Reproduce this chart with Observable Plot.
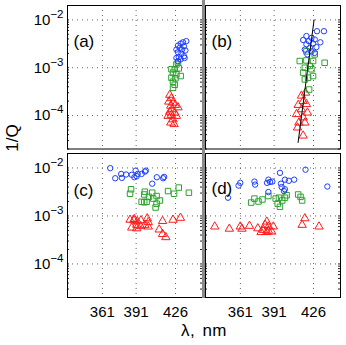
<!DOCTYPE html>
<html>
<head>
<meta charset="utf-8">
<script src="https://cdn.jsdelivr.net/npm/d3@7"></script>
<script src="https://cdn.jsdelivr.net/npm/@observablehq/plot@0.6"></script>
<style>
  html, body { margin: 0; padding: 0; background: white; }
  #chart { position: relative; width: 346px; height: 345px; background: white; overflow: hidden;
           font-family: "Liberation Sans", Arial, sans-serif; color: black; }
  #chart .panel { position: absolute; }
  .lbl { position: absolute; font-size: 17px; line-height: 17px; white-space: nowrap; }
</style>
</head>
<body>
<div id="chart"></div>
<script>
// ---------- data: [wavelength nm, 1/Q] ----------
const aBlue = [[435.6,3.6e-3],[432.7,3.4e-3],[430.6,3.2e-3],[428.2,2.9e-3],[433.5,2.8e-3],[429.7,2.6e-3],[426.8,2.4e-3],[431.8,2.4e-3],[434.8,2.3e-3],[428.2,2.1e-3],[431.2,1.96e-3],[433.5,1.74e-3],[428.9,1.66e-3],[426.8,1.6e-3],[430.6,1.5e-3],[434.1,1.6e-3],[428.2,1.37e-3]];
const aGreen = [[428.2,1.3e-3],[426.8,1.17e-3],[422.4,9.3e-4],[425.3,9.3e-4],[428.9,9.7e-4],[423.8,7.9e-4],[426.8,7.3e-4],[422.4,6.2e-4],[425.9,6.0e-4],[430.6,6.7e-4],[423.8,5.1e-4],[425.3,4.4e-4],[423.8,3.8e-4]];
const aRed = [[420.9,2.7e-4],[422.4,2.3e-4],[420.0,1.95e-4],[423.8,1.86e-4],[421.8,1.6e-4],[425.9,1.66e-4],[428.2,1.48e-4],[422.9,1.35e-4],[420.9,1.2e-4],[425.3,1.15e-4],[422.4,1.03e-4],[419.4,9.8e-5],[426.8,9.8e-5],[423.8,8.3e-5],[421.8,7.1e-5],[424.7,6.6e-5]];

const bBlue = [[429.1,5.8e-3],[435.3,5.8e-3],[419.7,4.6e-3],[424.2,4.2e-3],[416.8,3.8e-3],[421.8,3.6e-3],[427.1,3.9e-3],[432.1,3.4e-3],[419.7,3.1e-3],[425.6,3.2e-3],[422.7,2.6e-3],[428.6,2.7e-3],[418.3,2.4e-3],[424.2,2.2e-3],[427.1,2.05e-3],[420.6,1.9e-3]];
const bGreen = [[419.7,2.2e-3],[427.1,1.9e-3],[413.8,1.38e-3],[419.7,1.42e-3],[425.6,1.38e-3],[435.9,1.27e-3],[422.7,1.09e-3],[418.3,1.0e-3],[424.2,9.3e-4],[416.8,7.9e-4],[425.6,6.7e-4],[421.2,6.2e-4],[418.3,5.7e-4],[422.1,3.5e-4]];
const bRed = [[418.9,3.0e-4],[415.3,2.6e-4],[416.8,2.0e-4],[412.4,1.66e-4],[419.7,1.73e-4],[415.3,1.35e-4],[420.6,1.15e-4],[410.9,1.07e-4],[416.8,9.1e-5],[413.0,7.1e-5],[418.3,7.1e-5],[411.8,5.6e-5],[416.8,3.8e-5]];
const bFit = [[412.3,2.74e-5],[426.5,1.0e-2]];

const cBlue = [[368.0,9.9e-3],[372.4,6.1e-3],[377.7,7.5e-3],[378.3,6.2e-3],[382.1,7.3e-3],[387.1,7.2e-3],[390.6,8.8e-3],[392.4,7.5e-3],[389.4,6.4e-3],[391.5,6.7e-3],[395.9,7.5e-3],[398.8,8.4e-3],[399.7,8.8e-3],[405.3,4.7e-3],[409.4,6.4e-3],[415.0,6.1e-3],[415.9,6.5e-3]];
const cGreen = [[386.5,3.6e-3],[385.6,2.9e-3],[398.8,3.2e-3],[398.2,2.8e-3],[405.3,3.05e-3],[402.4,2.5e-3],[409.2,2.6e-3],[412.1,2.1e-3],[395.9,1.97e-3],[398.2,1.93e-3],[400.3,1.97e-3],[409.2,1.8e-3],[408.3,1.5e-3],[419.4,3.3e-3],[424.7,2.9e-3],[428.9,3.9e-3],[437.9,3.05e-3],[406.2,2.3e-3]];
const cRed = [[385.6,8.3e-4],[389.1,8.1e-4],[392.0,7.7e-4],[395.3,8.1e-4],[400.9,8.9e-4],[387.1,5.7e-4],[391.5,5.5e-4],[395.0,6.1e-4],[401.8,7.4e-4],[414.5,7.8e-4],[423.8,8.3e-4],[430.4,9.1e-4],[411.5,5.2e-4],[414.5,4.2e-4],[417.4,3.6e-4],[389.4,8.6e-4],[391.5,6.5e-4],[398.8,6.5e-4],[401.8,6.0e-4]];

const dBlue = [[396.2,7.9e-3],[418.9,9.2e-3],[360.9,4.9e-3],[359.4,4.3e-3],[373.5,5.2e-3],[374.1,4.5e-3],[385.9,5.7e-3],[387.4,5.1e-3],[384.7,4.9e-3],[389.4,5.2e-3],[397.1,4.7e-3],[400.6,5.7e-3],[404.1,5.4e-3],[408.8,5.7e-3],[400.6,3.6e-3],[397.7,4.0e-3],[385.9,3.15e-3],[399.7,3.3e-3],[350.0,2.4e-3],[438.3,4.1e-3]];
const dGreen = [[370.6,1.9e-3],[373.5,2.3e-3],[377.1,2.0e-3],[380.6,2.2e-3],[385.9,2.6e-3],[392.4,2.3e-3],[395.3,2.4e-3],[394.2,1.8e-3],[396.2,1.55e-3],[398.2,2.1e-3],[402.1,2.7e-3],[400.6,2.4e-3],[412.4,2.8e-3],[414.5,2.5e-3],[415.9,2.1e-3]];
const dRed = [[338.2,6.0e-4],[351.2,5.4e-4],[360.9,6.0e-4],[362.4,5.4e-4],[369.1,6.2e-4],[376.5,5.5e-4],[384.5,7.6e-4],[383.0,6.5e-4],[385.9,6.0e-4],[390.3,6.0e-4],[381.5,5.1e-4],[385.9,4.9e-4],[388.9,4.7e-4],[379.4,4.6e-4],[384.5,4.6e-4],[418.3,8.9e-4],[415.9,6.5e-4],[430.9,6.0e-4]];

// ---------- axes ----------
const xTicks = [361, 391, 426];
const yTicks = [1e-4, 1e-3, 1e-2];
const yMinor = [2e-5,3e-5,4e-5,5e-5,6e-5,7e-5,8e-5,9e-5,1e-4,2e-4,3e-4,4e-4,5e-4,6e-4,7e-4,8e-4,9e-4,1e-3,2e-3,3e-3,4e-3,5e-3,6e-3,7e-3,8e-3,9e-3,1e-2];
const xDomain = [330, 450];
const yDomain = [2e-5, 2e-2];
const panelLabels = ["(a)", "(b)", "(c)", "(d)"];
const xLabel = "λ, nm";
const yLabel = "1/Q";

const BLUE = "#1f3fff", GREEN = "#2ea32e", RED = "#ff1a1a";
const FONT = "'Liberation Sans', Arial, sans-serif";

function supify(svg) {
  d3.select(svg).selectAll("text").each(function () {
    const m = /^10\^(.+)$/.exec(this.textContent);
    if (!m) return;
    const sel = d3.select(this);
    sel.text(null);
    sel.append("tspan").text("10");
    sel.append("tspan").attr("dy", -7).attr("font-size", "11.5px").text(m[1].replace("-", "\u2212"));
  });
}

function panel(o) {
  const plotW = o.width - o.marginLeft - o.marginRight;
  const marks = [
    Plot.ruleX(xTicks, {stroke: "#666", strokeDasharray: "1,4"}),
    Plot.ruleY(yTicks, {stroke: "#666", strokeDasharray: "1,4"}),
    Plot.tickY(yMinor, {y: d => d, insetRight: plotW - 2, stroke: "#222"}),
    Plot.tickY(yMinor, {y: d => d, insetLeft: plotW - 2, stroke: "#222"}),
    Plot.frame({stroke: "black"}),
    Plot.dot(o.red, {x: d => d[0], y: d => d[1], symbol: "triangle", r: 3.1, stroke: RED, strokeWidth: 1, fill: "none"}),
    Plot.dot(o.green, {x: d => d[0], y: d => d[1], symbol: "square", r: 3.1, stroke: GREEN, strokeWidth: 1, fill: "none"}),
    Plot.dot(o.blue, {x: d => d[0], y: d => d[1], symbol: "circle", r: 2.7, stroke: BLUE, strokeWidth: 1, fill: "none"}),
  ];
  if (o.fit) marks.push(Plot.line(o.fit, {x: d => d[0], y: d => d[1], stroke: "black", strokeWidth: 1}));
  marks.push(Plot.text([o.label], {text: d => d, frameAnchor: "top-left", textAnchor: "start", lineAnchor: "top", dx: 6, dy: o.labelDy, fontSize: 17}));
  const svg = Plot.plot({
    width: o.width, height: o.height,
    marginLeft: o.marginLeft, marginRight: o.marginRight, marginTop: o.marginTop, marginBottom: o.marginBottom,
    style: {fontSize: "15px", fontFamily: FONT, background: "transparent", color: "black", overflow: "visible"},
    x: {domain: xDomain, ticks: xTicks, tickSize: 0, tickPadding: 9, label: null, axis: o.showX ? "bottom" : null, tickFormat: d => String(d)},
    y: {type: "log", domain: yDomain, ticks: yTicks, tickSize: 0, tickPadding: 4, label: null, axis: o.showY ? "left" : null,
        tickFormat: d => "10^" + Math.round(Math.log10(d))},
    marks
  });
  supify(svg);
  svg.classList.add("panel");
  svg.style.left = o.left + "px";
  svg.style.top = o.top + "px";
  svg.style.position = "absolute";
  return svg;
}

const chart = document.getElementById("chart");
chart.append(panel({left: 0, top: 0, width: 203, height: 150, marginLeft: 67, marginRight: 1, marginTop: 5, marginBottom: 1.5,
  blue: aBlue, green: aGreen, red: aRed, label: panelLabels[0], labelDy: 29.5, showX: false, showY: true}));
chart.append(panel({left: 203, top: 0, width: 143, height: 150, marginLeft: 2, marginRight: 6, marginTop: 5, marginBottom: 1.5,
  blue: bBlue, green: bGreen, red: bRed, fit: bFit, label: panelLabels[1], labelDy: 29, showX: false, showY: false}));
chart.append(panel({left: 0, top: 150, width: 203, height: 195, marginLeft: 67, marginRight: 1, marginTop: 3, marginBottom: 48,
  blue: cBlue, green: cGreen, red: cRed, label: panelLabels[2], labelDy: 30.5, showX: true, showY: true}));
chart.append(panel({left: 203, top: 150, width: 143, height: 195, marginLeft: 2, marginRight: 6, marginTop: 3, marginBottom: 48,
  blue: dBlue, green: dGreen, red: dRed, label: panelLabels[3], labelDy: 28, showX: true, showY: false}));

// separator bar
const bar = document.createElement("div");
Object.assign(bar.style, {position: "absolute", left: "202px", top: "0px", width: "3px", height: "298px", background: "#8a8a8a"});
chart.append(bar);

// axis titles
const yl = document.createElement("div");
yl.className = "lbl";
yl.textContent = yLabel;
Object.assign(yl.style, {left: "12px", top: "137.5px", transform: "translate(-50%,-50%) rotate(-90deg)"});
chart.append(yl);
const xl = document.createElement("div");
xl.className = "lbl";
xl.textContent = xLabel;
Object.assign(xl.style, {left: "204px", top: "322px", transform: "translateX(-50%)", wordSpacing: "2px", letterSpacing: "0.5px"});
chart.append(xl);
</script>
</body>
</html>
